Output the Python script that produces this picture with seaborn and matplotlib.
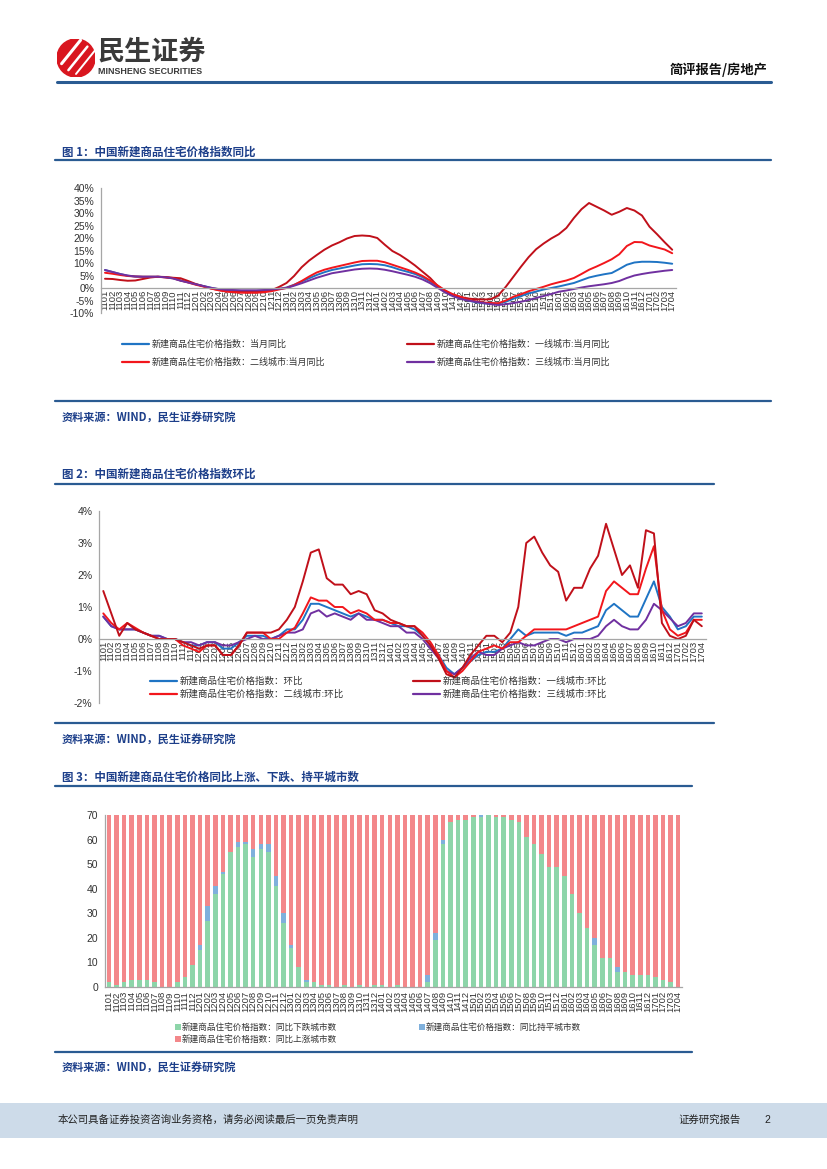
import numpy as np
import pandas as pd
import seaborn as sns
import matplotlib.pyplot as plt
from matplotlib.lines import Line2D
from matplotlib.patches import Rectangle, Circle

# month labels 1101 ... 1704
months = [f"{y}{m:02d}" for y in range(11, 18) for m in range(1, 13)][:76]

# chart 1: YoY (%)
yoy_all = [7.2, 6.4, 5.6, 4.9, 4.6, 4.5, 4.5, 4.5, 4.3, 4.0, 3.0, 2.3,
           1.5, 0.8, 0.1, -0.5, -0.9, -1.1, -1.2, -1.2, -1.2, -1.1, -0.8, -0.4,
           0.2, 1.3, 2.6, 3.9, 5.2, 6.3, 7.2, 7.8, 8.4, 9.0, 9.5, 9.6,
           9.5, 9.1, 8.3, 7.3, 6.5, 5.6, 4.3, 2.6, 0.6, -1.3, -2.9, -4.0,
           -5.0, -5.7, -6.1, -6.3, -6.2, -5.5, -4.3, -3.2, -2.2, -1.4, -0.6, 0.0,
           0.6, 1.3, 2.0, 3.1, 4.2, 4.9, 5.5, 6.0, 7.6, 9.3, 10.2, 10.5,
           10.5, 10.4, 10.1, 9.7]
yoy_t1 = [3.7, 3.6, 3.2, 2.9, 3.0, 3.6, 4.2, 4.5, 4.4, 4.1, 3.9, 2.8,
          1.6, 0.7, -0.2, -0.8, -1.3, -1.5, -1.6, -1.6, -1.6, -1.5, -0.9, 0.4,
          2.0, 4.8, 8.3, 11.0, 13.2, 15.3, 17.0, 18.3, 19.8, 20.8, 21.0, 20.8,
          20.0, 17.3, 14.8, 13.2, 11.2, 9.0, 6.5, 4.0, 0.8, -1.2, -2.7, -3.6,
          -4.2, -4.5, -4.6, -4.5, -3.0, 0.5, 4.5, 8.5, 12.3, 15.5, 17.8, 19.8,
          21.5, 24.0, 28.0, 31.5, 34.0, 32.5, 31.0, 29.3, 30.5, 32.0, 31.0, 29.0,
          24.5, 21.5, 18.3, 15.3]
yoy_t2 = [6.1, 5.7, 5.2, 4.8, 4.6, 4.5, 4.5, 4.5, 4.2, 3.9, 3.0, 2.2,
          1.3, 0.6, -0.2, -0.9, -1.4, -1.7, -1.9, -1.9, -1.9, -1.7, -1.3, -0.6,
          0.0, 1.2, 2.8, 4.6, 6.2, 7.3, 8.1, 8.8, 9.5, 10.2, 10.8, 10.9,
          10.9, 10.3, 9.3, 8.3, 7.3, 6.2, 4.8, 3.0, 1.0, -1.0, -2.5, -3.5,
          -4.7, -5.3, -5.8, -6.0, -6.1, -5.0, -3.5, -2.5, -1.3, -0.4, 0.5, 1.5,
          2.3, 3.0, 4.0, 5.6, 7.3, 8.6, 10.0, 11.5, 13.5, 16.8, 18.4, 18.3,
          17.0, 16.2, 15.4, 13.9]
yoy_t3 = [7.2, 6.4, 5.6, 5.0, 4.6, 4.5, 4.5, 4.5, 4.3, 3.8, 2.9, 2.2,
          1.5, 0.8, 0.1, -0.4, -0.7, -0.8, -0.9, -0.9, -0.9, -0.8, -0.6, -0.3,
          0.0, 0.9, 1.9, 3.0, 4.1, 5.0, 5.9, 6.4, 6.9, 7.4, 7.7, 7.8,
          7.7, 7.3, 6.7, 6.0, 5.3, 4.5, 3.4, 1.9, 0.0, -1.8, -3.3, -4.3,
          -5.0, -5.5, -6.0, -6.5, -6.8, -6.5, -6.0, -5.5, -4.8, -4.0, -3.2, -2.4,
          -1.5, -1.0, -0.4, 0.2, 0.7, 1.1, 1.5, 2.0, 2.8, 4.0, 5.0, 5.6,
          6.1, 6.5, 6.9, 7.2]

# chart 2: MoM (%)
mom_all = [0.7, 0.4, 0.3, 0.3, 0.3, 0.2, 0.1, 0.1, 0.0, 0.0, -0.1, -0.2,
           -0.2, -0.1, -0.1, -0.3, -0.3, -0.1, 0.1, 0.1, 0.1, 0.0, 0.1, 0.3,
           0.3, 0.6, 1.1, 1.1, 1.0, 0.9, 0.8, 0.7, 0.8, 0.7, 0.6, 0.6,
           0.5, 0.4, 0.4, 0.3, 0.1, -0.2, -0.5, -0.9, -1.1, -0.9, -0.7, -0.5,
           -0.4, -0.4, -0.3, 0.0, 0.3, 0.1, 0.2, 0.2, 0.2, 0.2, 0.1, 0.2,
           0.2, 0.3, 0.4, 0.9, 1.1, 0.9, 0.7, 0.7, 1.25, 1.8, 1.0, 0.7,
           0.3, 0.4, 0.7, 0.7]
mom_t1 = [1.5, 0.8, 0.1, 0.5, 0.3, 0.2, 0.1, 0.0, 0.0, 0.0, -0.1, -0.2,
          -0.3, -0.2, -0.2, -0.5, -0.5, -0.2, 0.2, 0.2, 0.2, 0.2, 0.3, 0.6,
          1.0, 1.8, 2.7, 2.8, 1.9, 1.7, 1.7, 1.4, 1.5, 1.4, 0.9, 0.8,
          0.6, 0.5, 0.4, 0.4, 0.1, -0.2, -0.6, -1.1, -1.2, -0.9, -0.5, -0.2,
          0.1, 0.1, -0.1, 0.2, 1.0, 3.0, 3.2, 2.7, 2.3, 2.1, 1.2, 1.6,
          1.6, 2.2, 2.6, 3.6, 2.8, 2.0, 2.3, 1.6, 3.4, 3.3, 0.5, 0.1,
          0.0, 0.1, 0.6, 0.4]
mom_t2 = [0.8, 0.5, 0.3, 0.5, 0.35, 0.2, 0.1, 0.0, 0.0, 0.0, -0.2, -0.3,
          -0.4, -0.2, -0.2, -0.5, -0.5, -0.2, 0.2, 0.2, 0.2, 0.0, 0.0, 0.2,
          0.35, 0.8, 1.3, 1.2, 1.2, 1.0, 1.0, 0.8, 0.9, 0.8, 0.6, 0.6,
          0.5, 0.5, 0.4, 0.4, 0.2, -0.1, -0.5, -1.0, -1.2, -1.0, -0.7, -0.4,
          -0.3, -0.2, -0.3, -0.1, -0.1, 0.1, 0.3, 0.3, 0.3, 0.3, 0.3, 0.4,
          0.5, 0.6, 0.7, 1.5, 1.8, 1.6, 1.4, 1.4, 2.2, 2.9, 0.9, 0.3,
          0.1, 0.2, 0.6, 0.6]
mom_t3 = [0.7, 0.4, 0.3, 0.3, 0.3, 0.2, 0.1, 0.1, 0.0, 0.0, -0.1, -0.1,
          -0.2, -0.1, -0.1, -0.2, -0.2, -0.1, 0.0, 0.1, 0.0, 0.0, 0.1, 0.2,
          0.2, 0.3, 0.8, 0.9, 0.7, 0.8, 0.7, 0.6, 0.8, 0.6, 0.6, 0.5,
          0.4, 0.4, 0.2, 0.2, 0.0, -0.3, -0.6, -1.0, -1.1, -0.9, -0.6, -0.4,
          -0.5, -0.5, -0.3, -0.2, -0.1, -0.2, -0.2, -0.1, 0.0, 0.0, -0.1, 0.0,
          0.0, 0.0, 0.1, 0.4, 0.6, 0.4, 0.3, 0.3, 0.6, 1.1, 0.9, 0.65,
          0.4, 0.5, 0.8, 0.8]

# chart 3: number of cities (falling / flat / rising YoY)
city_fall = [2, 1, 2, 3, 3, 3, 2, 0, 0, 2, 4, 9,
             15, 27, 38, 46, 55, 57, 58, 53, 56, 55, 41, 26,
             16, 8, 2, 2, 1, 1, 0, 1, 0, 1, 0, 1,
             1, 0, 1, 0, 0, 0, 2, 19, 58, 67, 68, 68,
             69, 69, 70, 69, 69, 68, 67, 61, 58, 54, 49, 49,
             45, 38, 30, 24, 17, 12, 12, 6, 6, 5, 5, 5,
             4, 3, 2, 0]
city_flat = [0, 0, 0, 0, 0, 0, 0, 0, 0, 0, 0, 0,
             2, 6, 3, 1, 0, 2, 1, 3, 2, 3, 4, 4,
             1, 0, 1, 0, 0, 0, 0, 0, 0, 0, 0, 0,
             0, 0, 0, 0, 0, 0, 3, 3, 2, 0, 0, 0,
             0, 1, 0, 0, 0, 0, 0, 0, 0, 0, 0, 0,
             0, 0, 0, 0, 3, 0, 0, 2, 0, 0, 0, 0,
             0, 0, 0, 0]
city_rise = [68, 69, 68, 67, 67, 67, 68, 70, 70, 68, 66, 61,
             53, 37, 29, 23, 15, 11, 11, 14, 12, 12, 25, 40,
             53, 62, 67, 68, 69, 69, 70, 69, 70, 69, 70, 69,
             69, 70, 69, 70, 70, 70, 65, 48, 10, 3, 2, 2,
             1, 0, 0, 1, 1, 2, 3, 9, 12, 16, 21, 21,
             25, 32, 40, 46, 50, 58, 58, 62, 64, 65, 65, 65,
             66, 67, 68, 70]

sns.set_style('white')
plt.rcParams['font.family'] = ['Noto Sans CJK SC', 'DejaVu Sans']
plt.rcParams['axes.unicode_minus'] = False

W, H = 827, 1169
fig = plt.figure(figsize=(8.27, 11.69), dpi=100)

BLUE = '#1F74C4'
DRED = '#C0101A'
RED = '#F2161C'
PURPLE = '#7030A0'
NAVY = '#1D3F8A'
RULE = '#2A5B92'
AXIS = '#A6A6A6'
TXT = '#333333'
NUM = 'Liberation Sans'


def px_axes(l, t, r, b):
    return fig.add_axes([l / W, 1 - b / H, (r - l) / W, (b - t) / H])


def hline(x0, x1, y, color=RULE, lw=1.6):
    fig.add_artist(Line2D([x0 / W, x1 / W], [1 - y / H, 1 - y / H], color=color, lw=lw))


def text(x, y, s, **kw):
    kw.setdefault('va', 'center')
    fig.text(x / W, 1 - y / H, s, **kw)


def leg_line(x, y, color, label, size=6.5):
    hline(x, x + 27, y, color=color, lw=1.6)
    text(x + 30, y, label, fontsize=size, color=TXT)


def leg_square(x, y, color, label, size=6.2):
    fig.add_artist(Rectangle(((x - 3) / W, 1 - (y + 3) / H), 6 / W, 6 / H,
                             transform=fig.transFigure, color=color, lw=0))
    text(x + 4, y, label, fontsize=size, color=TXT)


def style_axes(ax, ymin, ymax, yticks, ylabels):
    ax.set_xlim(-0.5, 75.5)
    ax.set_ylim(ymin, ymax)
    for s in ['top', 'right']:
        ax.spines[s].set_visible(False)
    for s in ['left', 'bottom']:
        ax.spines[s].set_color(AXIS)
        ax.spines[s].set_linewidth(0.9)
    ax.spines['bottom'].set_position(('data', 0))
    ax.set_yticks(yticks)
    ax.set_yticklabels(ylabels, fontsize=7.5, family=NUM, color=TXT)
    ax.set_xticks(range(76))
    ax.set_xticklabels(months, rotation=90, fontsize=6.8, family=NUM, color=TXT)
    ax.set_xticks(np.arange(-0.5, 76, 1), minor=True)
    ax.tick_params(axis='x', which='major', length=0, pad=1.5)
    ax.tick_params(axis='x', which='minor', length=3, color=AXIS, direction='out')
    ax.tick_params(axis='y', length=3, color=AXIS, direction='out', pad=2)
    ax.set_xlabel('')
    ax.set_ylabel('')
    ax.set_facecolor('none')


# ---------------- header ----------------
logo = px_axes(57, 39, 95, 77)
logo.set_xlim(0, 1)
logo.set_ylim(0, 1)
logo.set_aspect('equal')
logo.axis('off')
logo.add_patch(Circle((0.5, 0.5), 0.5, color='#D9161F'))
for k, (x0, y0) in enumerate([(0.12, 0.35), (0.3, 0.18), (0.5, 0.08)]):
    logo.plot([x0, x0 + 0.5], [y0, y0 + 0.62], color='white', lw=2.2 - 0.4 * k,
              solid_capstyle='round')
text(97, 52, '民生证券', fontsize=19.5, weight='bold', color='#3A3A3A')
text(98, 71, 'MINSHENG SECURITIES', fontsize=6.4, weight='bold', color='#3A3A3A',
     family=NUM)
text(768, 70, '简评报告/房地产', fontsize=9.5, weight='bold', color='#111111', ha='right')
hline(57, 771, 82, color=RULE, lw=2.2)

# ---------------- chart 1 ----------------
text(62, 152, '图 1：中国新建商品住宅价格指数同比', fontsize=8.3, weight='bold', color=NAVY)
hline(55, 771, 160)
ax1 = px_axes(101.2, 188, 676, 313)
idx = np.arange(76)
for vals, col in [(yoy_all, BLUE), (yoy_t1, DRED), (yoy_t2, RED), (yoy_t3, PURPLE)]:
    sns.lineplot(x=idx, y=vals, ax=ax1, color=col, linewidth=1.4, legend=False)
style_axes(ax1, -10, 40, range(-10, 41, 5), [f"{v}%" for v in range(-10, 41, 5)])

leg_line(122, 344, BLUE, '新建商品住宅价格指数：当月同比')
leg_line(407, 344, DRED, '新建商品住宅价格指数：一线城市:当月同比')
leg_line(122, 362, RED, '新建商品住宅价格指数：二线城市:当月同比')
leg_line(407, 362, PURPLE, '新建商品住宅价格指数：三线城市:当月同比')
hline(55, 771, 401)
text(62, 418, '资料来源：WIND，民生证券研究院', fontsize=8, weight='bold', color=NAVY)

# ---------------- chart 2 ----------------
text(62, 474, '图 2：中国新建商品住宅价格指数环比', fontsize=8.3, weight='bold', color=NAVY)
hline(55, 714, 484)
ax2 = px_axes(99.3, 511, 705.8, 703)
for vals, col in [(mom_all, BLUE), (mom_t3, PURPLE), (mom_t2, RED), (mom_t1, DRED)]:
    sns.lineplot(x=idx, y=vals, ax=ax2, color=col, linewidth=1.4, legend=False)
style_axes(ax2, -2, 4, range(-2, 5), [f"{v}%" for v in range(-2, 5)])

leg_line(150, 681, BLUE, '新建商品住宅价格指数：环比', size=6.8)
leg_line(413, 681, DRED, '新建商品住宅价格指数：一线城市:环比', size=6.8)
leg_line(150, 694, RED, '新建商品住宅价格指数：二线城市:环比', size=6.8)
leg_line(413, 694, PURPLE, '新建商品住宅价格指数：三线城市:环比', size=6.8)
hline(55, 714, 723)
text(62, 740, '资料来源：WIND，民生证券研究院', fontsize=8, weight='bold', color=NAVY)

# ---------------- chart 3 ----------------
text(62, 777, '图 3：中国新建商品住宅价格同比上涨、下跌、持平城市数', fontsize=8.3,
     weight='bold', color=NAVY)
hline(55, 692, 786)
ax3 = px_axes(105.2, 815, 682, 987)
GREEN_C = '#8DD5A9'
FLAT_C = '#7FB0DC'
RISE_C = '#F3878A'
stack_top = np.array(city_fall) + np.array(city_flat) + np.array(city_rise)
stack_mid = np.array(city_fall) + np.array(city_flat)
for vals, col in [(stack_top, RISE_C), (stack_mid, FLAT_C), (np.array(city_fall), GREEN_C)]:
    sns.barplot(x=months, y=vals, ax=ax3, color=col, saturation=1, width=0.6,
                errorbar=None, linewidth=0)
style_axes(ax3, 0, 70, range(0, 71, 10), [str(v) for v in range(0, 71, 10)])
ax3.tick_params(axis='x', which='major', pad=3)

leg_square(178, 1027, GREEN_C, '新建商品住宅价格指数：同比下跌城市数')
leg_square(422, 1027, FLAT_C, '新建商品住宅价格指数：同比持平城市数')
leg_square(178, 1039, RISE_C, '新建商品住宅价格指数：同比上涨城市数')
hline(55, 692, 1052)
text(62, 1068, '资料来源：WIND，民生证券研究院', fontsize=8, weight='bold', color=NAVY)

# ---------------- footer ----------------
fig.add_artist(Rectangle((0, 1 - 1138 / H), 1, 35 / H, transform=fig.transFigure,
                         color='#CDDBE9', lw=0, zorder=0))
text(58, 1120, '本公司具备证券投资咨询业务资格，请务必阅读最后一页免责声明',
     fontsize=7.5, color='#222222')
text(678, 1120, '证券研究报告', fontsize=7.5, color='#222222')
text(764, 1120, '2', fontsize=7.5, color='#222222', family=NUM)

fig.savefig('out.png', dpi=100)
